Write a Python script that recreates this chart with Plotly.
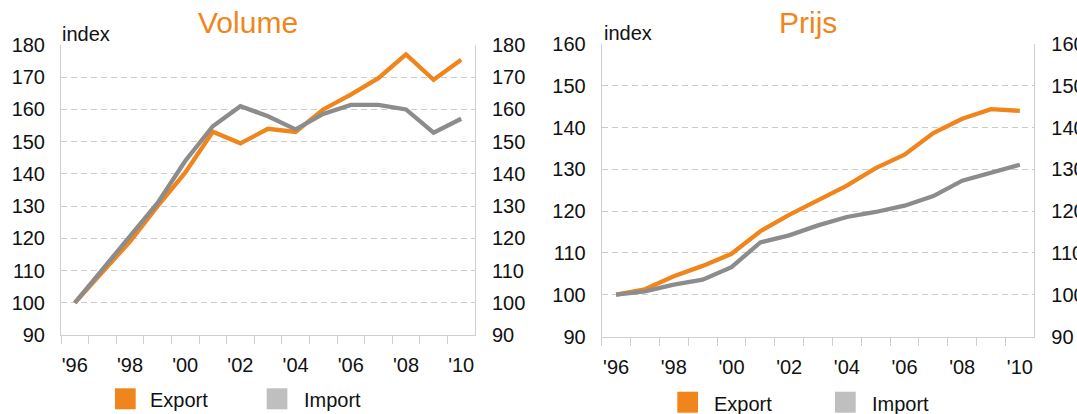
import plotly.graph_objects as go

# ---------------- data ----------------
years = ["'96", "'97", "'98", "'99", "'00", "'01", "'02", "'03", "'04",
         "'05", "'06", "'07", "'08", "'09", "'10"]
tick_labels = ["'96", "'98", "'00", "'02", "'04", "'06", "'08", "'10"]

volume_export = [100, 109.5, 119, 130, 140.4, 153.1, 149.5, 154, 153,
                 160, 164.6, 169.7, 177.1, 169.2, 175.4]
volume_import = [100, 110.5, 121, 131, 144, 154.8, 161, 157.9, 153.8,
                 158.6, 161.4, 161.4, 160, 152.8, 157.1]

price_export = [100, 101.3, 104.4, 106.9, 109.8, 115.2, 119.1, 122.7, 126.1,
                130.3, 133.5, 138.7, 142.1, 144.4, 144.0]
price_import = [100, 100.8, 102.4, 103.6, 106.6, 112.5, 114.2, 116.6, 118.6,
                119.8, 121.3, 123.6, 127.3, 129.1, 131.1]

volume_range = [90, 180]
price_range = [90, 160]

titles = ["Volume", "Prijs"]
series_names = ["Export", "Import"]
unit_label = "index"

# ---------------- style ----------------
W, H = 1077, 414
ORANGE = "#F0861B"
GRAY_LINE = "#8C8C8C"
GRAY_LEG = "#BFBFBF"
GRID = "#CBCBCB"
AXIS = "#CFCFCF"
FONT = "Liberation Sans, Arial, sans-serif"
FS = 20
LW = 4.3

ticktext = [y if y in tick_labels else "" for y in years]


def px_x(p):
    return p / W


def px_y(p):
    return 1 - p / H


fig = go.Figure()
fig.add_trace(go.Scatter(x=years, y=volume_export, xaxis="x", yaxis="y",
                         mode="lines", line=dict(color=ORANGE, width=LW),
                         name=series_names[0], showlegend=False))
fig.add_trace(go.Scatter(x=years, y=volume_import, xaxis="x", yaxis="y2",
                         mode="lines", line=dict(color=GRAY_LINE, width=LW),
                         name=series_names[1], showlegend=False))
fig.add_trace(go.Scatter(x=years, y=price_export, xaxis="x2", yaxis="y3",
                         mode="lines", line=dict(color=ORANGE, width=LW),
                         name=series_names[0], showlegend=False))
fig.add_trace(go.Scatter(x=years, y=price_import, xaxis="x2", yaxis="y4",
                         mode="lines", line=dict(color=GRAY_LINE, width=LW),
                         name=series_names[1], showlegend=False))

xcommon = dict(type="category", range=[-0.5, len(years) - 0.5],
               tickmode="array", tickvals=years, ticktext=ticktext,
               tickangle=0,
               tickson="boundaries", ticks="outside", ticklen=8,
               tickcolor=AXIS, tickwidth=1, showline=True, linecolor=AXIS,
               linewidth=1, showgrid=False, zeroline=False,
               tickfont=dict(family=FONT, size=FS, color="#111"),
               ticklabelstandoff=12, automargin=False, fixedrange=True)
ycommon = dict(dtick=10, showline=True, linecolor=AXIS, linewidth=1,
               ticks="", zeroline=False,
               tickfont=dict(family=FONT, size=FS, color="#111"),
               automargin=False, fixedrange=True)

layout = dict(
    width=W, height=H, autosize=False,
    margin=dict(l=0, r=0, t=0, b=0),
    template="none",
    paper_bgcolor="white", plot_bgcolor="white",
    showlegend=False, hovermode=False,
    xaxis=dict(domain=[px_x(61), px_x(475)], anchor="y", **xcommon),
    xaxis2=dict(domain=[px_x(601.7), px_x(1034.3)], anchor="y3", **xcommon),
    yaxis=dict(domain=[px_y(335), px_y(45)], range=volume_range,
               anchor="x", side="left", showgrid=True, gridcolor=GRID,
               gridwidth=1, griddash="6px,4px", ticklabelstandoff=11,
               **ycommon),
    yaxis2=dict(range=volume_range, overlaying="y", anchor="x",
                side="right", showgrid=False, ticklabelstandoff=12,
                **ycommon),
    yaxis3=dict(domain=[px_y(336.5), px_y(44)], range=price_range,
                anchor="x2", side="left", showgrid=True, gridcolor=GRID,
                gridwidth=1, griddash="6px,4px", ticklabelstandoff=11,
                **ycommon),
    yaxis4=dict(range=price_range, overlaying="y3", anchor="x2",
                side="right", showgrid=False, ticklabelstandoff=12,
                **ycommon),
)
fig.update_layout(**layout)

annotations = []
# titles
for t, cx in zip(titles, [248, 808]):
    annotations.append(dict(text=t, x=px_x(cx), y=px_y(22), xref="paper",
                            yref="paper", xanchor="center", yanchor="middle",
                            showarrow=False,
                            font=dict(family=FONT, size=30, color=ORANGE)))
# "index" labels
for lx, cy in [(60, 34), (602, 33)]:
    annotations.append(dict(text=unit_label, x=px_x(lx), y=px_y(cy),
                            xref="paper", yref="paper", xanchor="left",
                            yanchor="middle", showarrow=False,
                            font=dict(family=FONT, size=FS, color="#111")))

# legends (squares + text)
shapes = []
legend_rows = [
    dict(top=388.3, sq=[115, 266.7], tx=[147.5, 302]),
    dict(top=391.7, sq=[677.3, 835], tx=[711.5, 869.7]),
]
for row in legend_rows:
    for name, col, sx, tx in zip(series_names, [ORANGE, GRAY_LEG],
                                 row["sq"], row["tx"]):
        shapes.append(dict(type="rect", xref="paper", yref="paper",
                           x0=px_x(sx), x1=px_x(sx + 20.7),
                           y0=px_y(row["top"] + 21), y1=px_y(row["top"]),
                           fillcolor=col, line=dict(width=0)))
        annotations.append(dict(text=name, x=px_x(tx),
                                y=px_y(row["top"] + 12), xref="paper",
                                yref="paper", xanchor="left",
                                yanchor="middle", showarrow=False,
                                font=dict(family=FONT, size=FS,
                                          color="#111")))

fig.update_layout(annotations=annotations, shapes=shapes)

fig.write_html("out.html", config={"displayModeBar": False,
                                   "staticPlot": True},
               post_script="document.body.style.margin='0';"
                           "document.body.style.overflow='hidden';")
